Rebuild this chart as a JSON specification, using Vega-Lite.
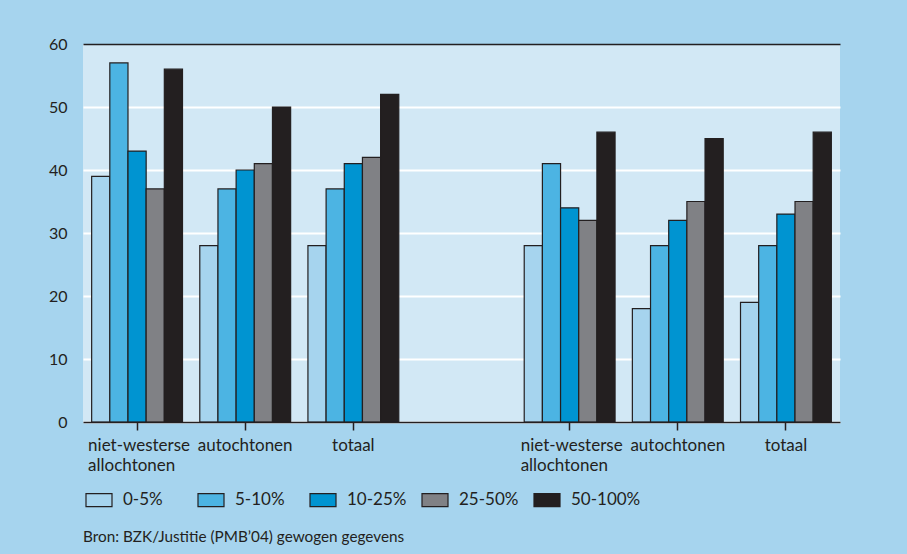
{
  "$schema": "https://vega.github.io/schema/vega-lite/v6.json",
  "width": 757,
  "height": 378,
  "autosize": {"type": "none"},
  "padding": {"left": 83, "top": 44, "right": 67, "bottom": 132},
  "background": "#a6d4ee",
  "config": {"view": {"fill": "#d2e8f5", "stroke": null}, "font": "Lato"},
  "data": {
    "values": [
      {"g": "A1", "c": "0-5%", "v": 39}, {"g": "A1", "c": "5-10%", "v": 57}, {"g": "A1", "c": "10-25%", "v": 43}, {"g": "A1", "c": "25-50%", "v": 37}, {"g": "A1", "c": "50-100%", "v": 56},
      {"g": "A2", "c": "0-5%", "v": 28}, {"g": "A2", "c": "5-10%", "v": 37}, {"g": "A2", "c": "10-25%", "v": 40}, {"g": "A2", "c": "25-50%", "v": 41}, {"g": "A2", "c": "50-100%", "v": 50},
      {"g": "A3", "c": "0-5%", "v": 28}, {"g": "A3", "c": "5-10%", "v": 37}, {"g": "A3", "c": "10-25%", "v": 41}, {"g": "A3", "c": "25-50%", "v": 42}, {"g": "A3", "c": "50-100%", "v": 52},
      {"g": "B1", "c": "0-5%", "v": 28}, {"g": "B1", "c": "5-10%", "v": 41}, {"g": "B1", "c": "10-25%", "v": 34}, {"g": "B1", "c": "25-50%", "v": 32}, {"g": "B1", "c": "50-100%", "v": 46},
      {"g": "B2", "c": "0-5%", "v": 18}, {"g": "B2", "c": "5-10%", "v": 28}, {"g": "B2", "c": "10-25%", "v": 32}, {"g": "B2", "c": "25-50%", "v": 35}, {"g": "B2", "c": "50-100%", "v": 45},
      {"g": "B3", "c": "0-5%", "v": 19}, {"g": "B3", "c": "5-10%", "v": 28}, {"g": "B3", "c": "10-25%", "v": 33}, {"g": "B3", "c": "25-50%", "v": 35}, {"g": "B3", "c": "50-100%", "v": 46}
    ]
  },
  "mark": {"type": "bar", "stroke": "#231f20", "strokeWidth": 1.2},
  "encoding": {
    "x": {
      "field": "g",
      "type": "nominal",
      "scale": {"domain": ["A1", "A2", "A3", "gap", "B1", "B2", "B3"], "paddingInner": 0.16, "paddingOuter": 0.08},
      "axis": {
        "values": ["A1", "A2", "A3", "B1", "B2", "B3"],
        "title": null,
        "grid": false,
        "zindex": 1,
        "domainColor": "#231f20",
        "domainWidth": 1.5,
        "tickColor": "#231f20",
        "tickWidth": 1.5,
        "tickSize": 8,
        "labelAngle": 0,
        "labelFontSize": 17,
        "labelColor": "#231f20",
        "labelPadding": 7,
        "labelBaseline": "top",
        "labelLineHeight": 20,
        "labelOverlap": false,
        "labelExpr": "(datum.value=='A1'||datum.value=='B1') ? ['niet-westerse','allochtonen'] : ((datum.value=='A2'||datum.value=='B2') ? 'autochtonen' : 'totaal')",
        "labelAlign": {"condition": {"test": "datum.value=='A1'||datum.value=='B1'", "value": "left"}, "value": "center"},
        "labelOffset": {"condition": {"test": "datum.value=='A1'||datum.value=='B1'", "value": -49}, "value": 0}
      }
    },
    "xOffset": {"field": "c", "type": "nominal", "scale": {"domain": ["0-5%", "5-10%", "10-25%", "25-50%", "50-100%"]}},
    "y": {
      "field": "v",
      "type": "quantitative",
      "scale": {"domain": [0, 60]},
      "axis": {
        "values": [0, 10, 20, 30, 40, 50, 60],
        "title": null,
        "domain": false,
        "ticks": false,
        "labelFontSize": 16,
        "labelColor": "#231f20",
        "labelPadding": 16,
        "gridColor": {"condition": {"test": "datum.value==60", "value": "#231f20"}, "value": "#ffffff"},
        "gridWidth": {"condition": {"test": "datum.value==60", "value": 1.5}, "value": 2.2},
        "gridOpacity": 1
      }
    },
    "fill": {
      "field": "c",
      "type": "nominal",
      "scale": {"domain": ["0-5%", "5-10%", "10-25%", "25-50%", "50-100%"], "range": ["#a6d4ee", "#4cb4e3", "#0094d1", "#808185", "#231f20"]},
      "legend": {
        "orient": "none",
        "legendX": 2,
        "legendY": 442,
        "direction": "horizontal",
        "columns": 5,
        "gridAlign": "all",
        "title": null,
        "padding": 0,
        "symbolType": "M-1,-0.5H1V0.5H-1Z",
        "symbolSize": 676,
        "symbolStrokeColor": "#231f20",
        "symbolStrokeWidth": 1.2,
        "symbolOpacity": 1,
        "labelFontSize": 17,
        "labelColor": "#231f20",
        "labelOffset": 10,
        "columnPadding": 2
      }
    }
  },
  "title": {
    "text": "Bron: BZK/Justitie (PMB’04) gewogen gegevens",
    "orient": "bottom",
    "anchor": "start",
    "frame": "group",
    "fontSize": 15.3,
    "fontWeight": "normal",
    "color": "#231f20",
    "baseline": "top",
    "offset": 21
  }
}
